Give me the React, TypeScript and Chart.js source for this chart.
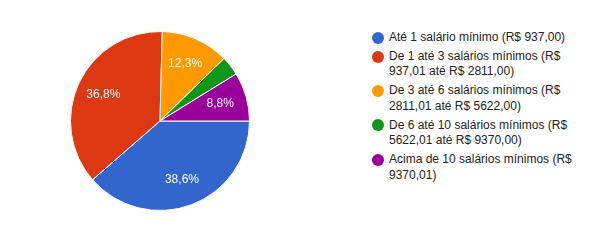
import React, { useEffect, useRef } from "react";
import { Chart, registerables } from "chart.js";

Chart.register(...registerables);

const labels = [
  "Até 1 salário mínimo (R$ 937,00)",
  "De 1 até 3 salários mínimos (R$ 937,01 até R$ 2811,00)",
  "De 3 até 6 salários mínimos (R$ 2811,01 até R$ 5622,00)",
  "De 6 até 10 salários mínimos (R$ 5622,01 até R$ 9370,00)",
  "Acima de 10 salários mínimos (R$ 9370,01)",
];
const values = [38.6, 36.8, 12.3, 3.5, 8.8];
const colors = ["#3366cc", "#dc3912", "#ff9900", "#109618", "#990099"];

const sliceLabelPlugin = {
  id: "sliceLabels",
  afterDatasetsDraw(chart: any) {
    const ctx = chart.ctx;
    const meta = chart.getDatasetMeta(0);
    const total = values.reduce((a, b) => a + b, 0);
    ctx.save();
    ctx.fillStyle = "#ffffff";
    ctx.font = "12px Arial, 'Liberation Sans', sans-serif";
    ctx.textAlign = "center";
    ctx.textBaseline = "middle";
    meta.data.forEach((arc: any, i: number) => {
      const pct = (values[i] / total) * 100;
      if (pct < 5) return;
      const { x, y, startAngle, endAngle, outerRadius } = arc.getProps(
        ["x", "y", "startAngle", "endAngle", "outerRadius"],
        true
      );
      const mid = (startAngle + endAngle) / 2;
      const r = outerRadius * 0.7;
      ctx.fillText(
        pct.toFixed(1).replace(".", ",") + "%",
        x + Math.cos(mid) * r,
        y + Math.sin(mid) * r
      );
    });
    ctx.restore();
  },
};

export default function App() {
  const ref = useRef<HTMLCanvasElement>(null);
  useEffect(() => {
    if (!ref.current) return;
    const chart = new Chart(ref.current, {
      type: "pie",
      data: {
        labels,
        datasets: [
          {
            data: values,
            backgroundColor: colors,
            borderColor: "#ffffff",
            borderWidth: 1,
          },
        ],
      },
      options: {
        animation: false,
        responsive: false,
        rotation: 90,
        layout: { padding: { top: 31, bottom: 31, left: 0, right: 0 } },
        plugins: {
          legend: { display: false },
          tooltip: { enabled: false },
        },
      },
      plugins: [sliceLabelPlugin],
    });
    return () => chart.destroy();
  }, []);

  return (
    <div
      style={{
        position: "absolute",
        left: 0,
        top: 0,
        width: 595,
        height: 247,
        background: "#ffffff",
        fontFamily: "Arial, 'Liberation Sans', sans-serif",
      }}
    >
      <canvas
        ref={ref}
        width={320}
        height={242}
        style={{ position: "absolute", left: 0, top: 0, width: 320, height: 242 }}
      />
      <div style={{ position: "absolute", left: 372, top: 30, width: 215 }}>
        {labels.map((l, i) => (
          <div
            key={i}
            style={{
              position: "relative",
              paddingLeft: 17,
              fontSize: 12,
              lineHeight: "15.7px",
              color: "#222222",
              marginBottom: 3,
              width: 186,
            }}
          >
            <span
              style={{
                position: "absolute",
                left: 0,
                top: 1.8,
                width: 12,
                height: 12,
                borderRadius: "50%",
                background: colors[i],
              }}
            />
            {l}
          </div>
        ))}
      </div>
    </div>
  );
}
